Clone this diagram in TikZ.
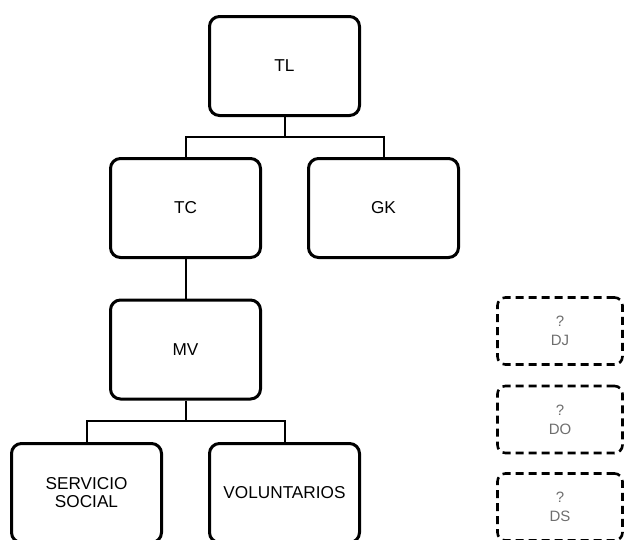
\documentclass[tikz,border=0pt]{standalone}
\usepackage{fontspec}
\setmainfont{Liberation Sans}
\definecolor{txtgray}{RGB}{110,110,110}
\begin{document}
\begin{tikzpicture}[x=1pt,y=-1pt,
  orgbox/.style={draw=black, line width=3pt, rounded corners=10pt, rectangle,
    minimum width=150pt, minimum height=99pt, inner sep=2pt, align=center,
    font=\fontsize{17.2}{18}\selectfont},
  vacbox/.style={draw=black, line width=2.6pt, dash pattern=on 8pt off 5pt, rounded corners=8pt,
    rectangle, minimum width=125pt, minimum height=67pt, inner sep=2pt, align=center,
    text=txtgray, font=\fontsize{15}{19}\selectfont},
  link/.style={draw=black, line width=2pt}]
\useasboundingbox (0,0) rectangle (626,539);
\clip (0,0) rectangle (626,539);
\node[orgbox] (TL) at (284.5,66) {TL};
\node[orgbox] (TC) at (185.5,208) {TC};
\node[orgbox] (GK) at (383.5,208) {GK};
\node[orgbox] (MV) at (185.5,349.5) {MV};
\node[orgbox] (SS) at (86.5,493) {SERVICIO\\SOCIAL};
\node[orgbox] (VO) at (284.5,493) {VOLUNTARIOS};
\node[vacbox] (DJ) at (560,331) {?\\DJ};
\node[vacbox] (DO) at (560,419.5) {?\\DO};
\node[vacbox] (DS) at (560,507) {?\\DS};
\coordinate (j1) at (284.5,137);
\coordinate (j2) at (185.5,421);
\path[link] (TL.south) -- (j1);
\path[link] (TC.north) |- (j1) -| (GK.north);
\path[link] (TC.south) -- (MV.north);
\path[link] (MV.south) -- (j2);
\path[link] (SS.north) |- (j2) -| (VO.north);
\end{tikzpicture}
\end{document}
